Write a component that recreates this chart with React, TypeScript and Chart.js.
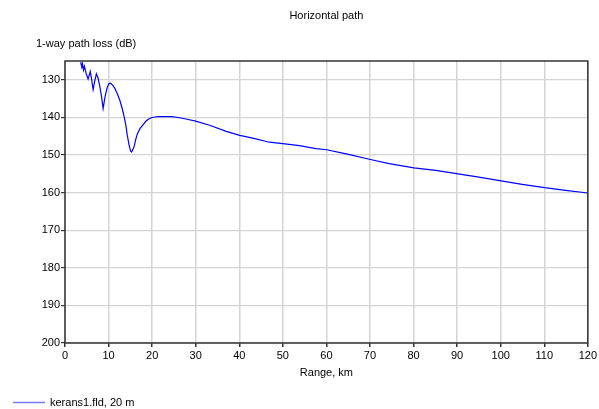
import React, { useEffect, useRef } from "react";
import { Chart, registerables } from "chart.js";

Chart.register(...registerables);

const chartTitle = "Horizontal path";
const yAxisTitle = "1-way path loss (dB)";
const xAxisTitle = "Range, km";
const seriesLabel = "kerans1.fld, 20 m";

const rangeKm = [
  3.6, 3.85, 4.0, 4.25, 4.45, 4.85, 5.3, 5.8, 6.1, 6.45, 6.8, 7.2, 7.6, 8.0, 8.4, 8.75,
  9.2, 9.7, 10.1, 10.45, 11.0, 11.5, 12.1, 12.6, 13.1, 13.6, 14.0, 14.3, 14.7, 15.05,
  15.3, 15.6, 15.9, 16.2, 16.6, 17.2, 17.9, 18.5, 19.1, 19.8, 20.6, 21.5, 22.5, 23.5,
  24.5, 26.3, 28, 30, 33.2, 37, 40.1, 43.1, 46.9, 50, 53.8, 57.6, 60.1, 63.7, 65.3,
  70.1, 74.4, 80.1, 85.1, 90.2, 95, 100.1, 104.9, 110.1, 114.9, 120,
];

const pathLossDb = [
  125.3, 126.6, 125.7, 127.4, 126.4, 128.3, 129.8, 127.8, 129.8, 132.6, 130.5, 128.4, 129.6, 131.8, 134.6, 137.6,
  134.5, 132.0, 131.0, 130.9, 131.5, 132.4, 134.0, 135.5, 137.5, 139.9, 142.3, 144.8, 147.3, 148.9,
  149.2, 148.5, 147.6, 146.0, 144.4, 143.0, 142.0, 141.1, 140.5, 140.1, 139.9, 139.8, 139.8, 139.8,
  139.8, 140.1, 140.5, 141.0, 142.1, 143.7, 144.8, 145.5, 146.6, 147.0, 147.5, 148.3, 148.6, 149.5, 149.9,
  151.2, 152.3, 153.4, 154.1, 155.0, 155.9, 156.9, 157.8, 158.7, 159.4, 160.1,
];

const xMin = 0;
const xMax = 120;
const xStep = 10;
const yMin = 125;
const yMax = 200;
const yTicks = [130, 140, 150, 160, 170, 180, 190, 200];

const FONT = "'Liberation Sans', Arial, sans-serif";

const textPlugin = {
  id: "textPlugin",
  afterDraw(chart: any) {
    const { ctx, chartArea } = chart;
    const cx = (chartArea.left + chartArea.right) / 2;
    ctx.save();
    // frame
    ctx.strokeStyle = "#333";
    ctx.lineWidth = 1.5;
    ctx.strokeRect(chartArea.left, chartArea.top, chartArea.right - chartArea.left, chartArea.bottom - chartArea.top);

    ctx.fillStyle = "#000";
    ctx.font = `11px ${FONT}`;
    ctx.textBaseline = "middle";
    ctx.textAlign = "center";
    ctx.fillText(chartTitle, cx, 16);
    ctx.fillText(xAxisTitle, cx, 373);
    ctx.textAlign = "left";
    ctx.fillText(yAxisTitle, 36, 44);

    // legend
    ctx.strokeStyle = "#7878ff";
    ctx.lineWidth = 1.5;
    ctx.beginPath();
    ctx.moveTo(13, 402.5);
    ctx.lineTo(45, 402.5);
    ctx.stroke();
    ctx.fillText(seriesLabel, 50, 403);
    ctx.restore();
  },
};

export default function App() {
  const canvasRef = useRef<HTMLCanvasElement | null>(null);

  useEffect(() => {
    const canvas = canvasRef.current;
    if (!canvas) return;
    const points = rangeKm.map((x, i) => ({ x, y: pathLossDb[i] }));
    const chart = new Chart(canvas, {
      type: "line",
      data: {
        datasets: [
          {
            label: seriesLabel,
            data: points,
            borderColor: "#0000ff",
            borderWidth: 1.2,
            pointRadius: 0,
            tension: 0,
            fill: false,
          },
        ],
      },
      options: {
        responsive: false,
        animation: false,
        events: [],
        layout: { padding: { left: 0, top: 61, right: 10, bottom: 0 } },
        plugins: {
          legend: { display: false },
          title: { display: false },
          tooltip: { enabled: false },
        },
        scales: {
          x: {
            type: "linear",
            min: xMin,
            max: xMax,
            ticks: {
              stepSize: xStep,
              maxRotation: 0,
              autoSkip: false,
              padding: 2,
              color: "#000",
              font: { family: FONT, size: 11 },
            },
            grid: {
              color: "#d4d4d4",
              lineWidth: 1.5,
              tickLength: 4,
              tickColor: "#333",
            },
            border: { display: false },
            afterFit(scale: any) {
              scale.height = 66;
            },
          },
          y: {
            type: "linear",
            reverse: true,
            min: yMin,
            max: yMax,
            afterBuildTicks(scale: any) {
              scale.ticks = yTicks.map((v) => ({ value: v }));
            },
            ticks: {
              padding: 1,
              color: "#000",
              font: { family: FONT, size: 11 },
            },
            grid: {
              color: "#d4d4d4",
              lineWidth: 1.2,
              tickLength: 4,
              tickColor: "#333",
            },
            border: { display: false },
            afterFit(scale: any) {
              scale.width = 65;
            },
          },
        },
      },
      plugins: [textPlugin],
    });
    return () => chart.destroy();
  }, []);

  return (
    <div style={{ position: "absolute", left: 0, top: 0, width: 599, height: 409, background: "#fff" }}>
      <canvas ref={canvasRef} width={599} height={409} style={{ display: "block" }} />
    </div>
  );
}
